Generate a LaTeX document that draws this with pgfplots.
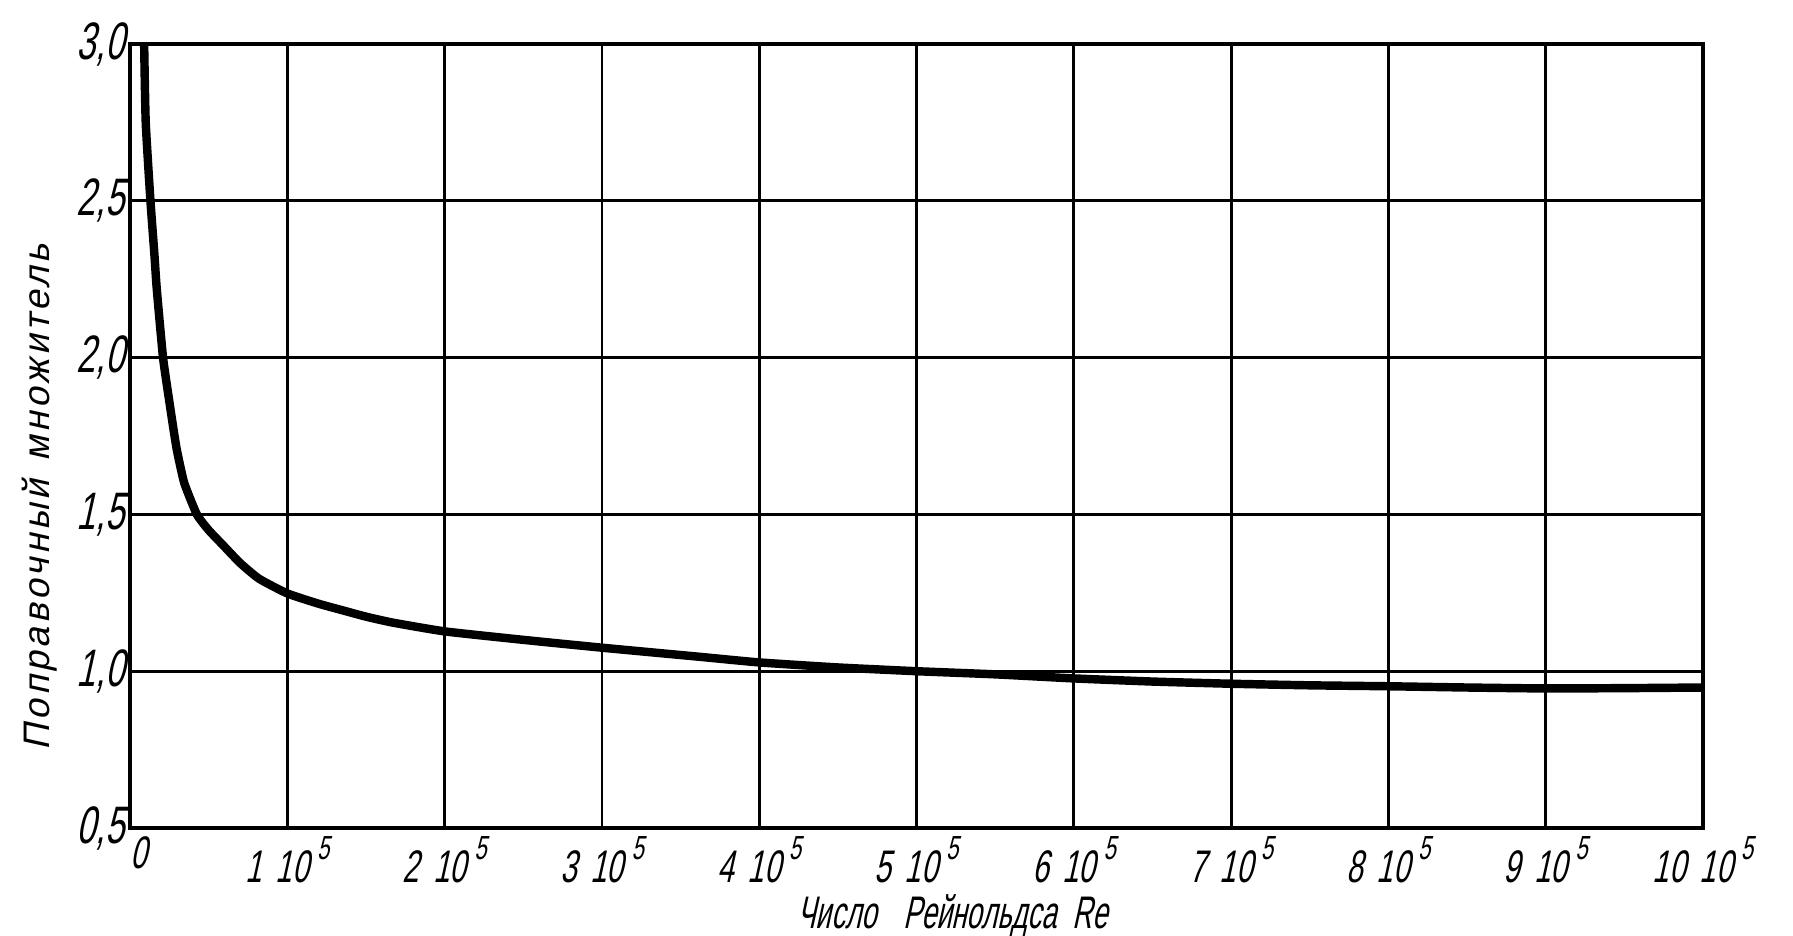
\documentclass[border=0pt]{standalone}
\usepackage{fontspec}
\setmainfont{Liberation Sans}[FakeSlant=0.22, FakeStretch=0.85]
\newfontfamily\tickfont{Liberation Sans}[FakeSlant=0.22, FakeStretch=0.65]
\newfontfamily\xlabfont{Liberation Sans}[FakeSlant=0.22, FakeStretch=0.6]
\newfontfamily\ylabfont{Liberation Sans}[FakeSlant=0.22, LetterSpace=10]
\usepackage{pgfplots}
\pgfplotsset{compat=1.18}

% tick label "n 10^5" in the drafting style
\newcommand{\re}[1]{#1\hspace{0.3em}10\kern0.18em\raisebox{0.5em}{\fontsize{9.5}{10}\selectfont 5}}

\begin{document}
\begin{tikzpicture}
\path[use as bounding box] (-1.30cm,-1.07cm) rectangle (16.63cm,8.28cm);
\begin{axis}[
  at={(0,0)}, anchor=south west,
  scale only axis,
  width=15.73cm, height=7.84cm,
  xmin=0, xmax=10, ymin=0.5, ymax=3.0,
  xtick={0,1,...,10},
  ytick={0.5,1.0,1.5,2.0,2.5,3.0},
  xticklabels={\hspace{0.4em}0,\re{1},\re{2},\re{3},\re{4},\re{5},\re{6},\re{7},\re{8},\re{9},\re{10}},
  yticklabels={{0,5},{1,0},{1,5},{2,0},{2,5},{3,0}},
  major tick length=0pt,
  grid=major,
  major grid style={black, line width=0.8pt},
  axis line style={black, line width=1.2pt},
  xticklabel style={font=\tickfont\fontsize{13}{14}\selectfont, inner sep=0pt, yshift=-0.08cm},
  yticklabel style={font=\tickfont\fontsize{15}{16}\selectfont, inner sep=0pt, xshift=-0.05cm},
  xlabel={Число\hspace{0.6em}Рейнольдса\hspace{0.35em}Re},
  ylabel={Поправочный\hspace{0.5em}множитель},
  xlabel style={font=\xlabfont\fontsize{13}{14}\selectfont, at={(axis description cs:0.523,0)}, anchor=base, yshift=-1.0cm},
  ylabel style={font=\ylabfont\fontsize{10.5}{12}\selectfont, at={(axis description cs:0,0.422)}, anchor=base, yshift=0.80cm},
  clip=false,
]
\addplot[black, line width=2.4pt, line join=round, smooth, tension=0.3] table {
x y
0.09 3.00
0.10 2.75
0.13 2.50
0.155 2.33
0.17 2.22
0.21 2.00
0.25 1.86
0.28 1.76
0.30 1.70
0.345 1.60
0.425 1.50
0.50 1.45
0.595 1.40
0.70 1.345
0.82 1.295
1.00 1.248
1.20 1.215
1.36 1.193
1.50 1.174
1.67 1.155
2.00 1.127
2.50 1.100
3.00 1.075
3.62 1.046
4.00 1.028
4.50 1.012
5.00 1.000
5.50 0.990
6.00 0.977
6.50 0.967
7.00 0.960
7.50 0.955
8.00 0.952
8.50 0.948
9.00 0.945
9.50 0.946
10.00 0.948
};
\end{axis}
\end{tikzpicture}
\end{document}
